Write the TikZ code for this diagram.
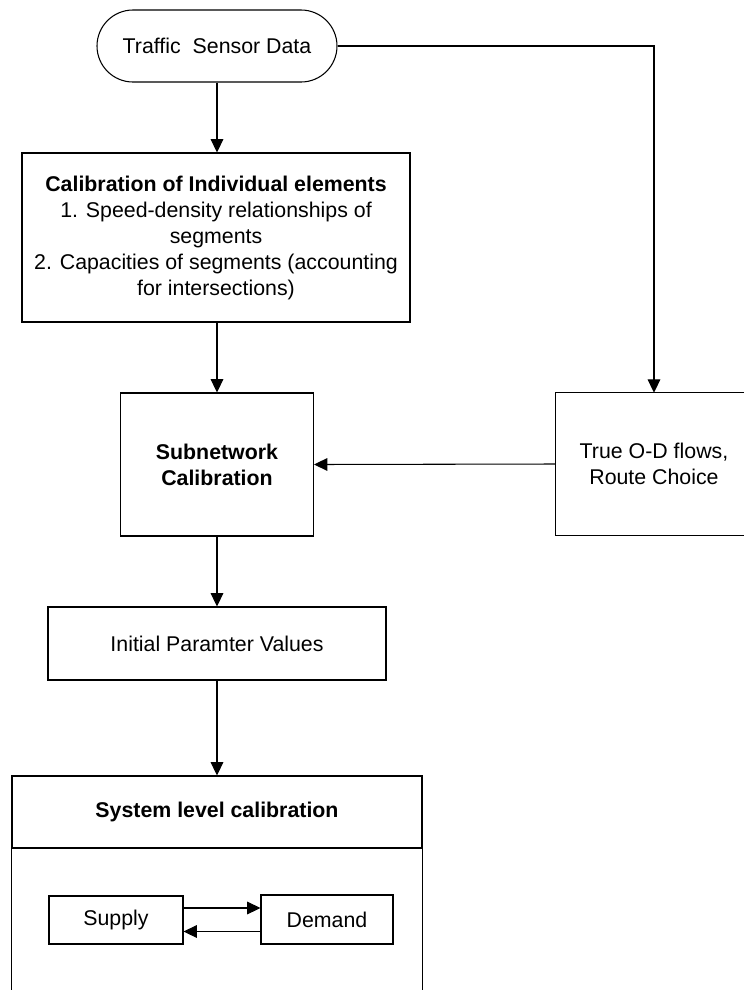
\documentclass[tikz,border=0pt]{standalone}
\usepackage{fontspec}
\setmainfont{Liberation Sans}
\usetikzlibrary{shapes.misc,arrows.meta,calc}
\begin{document}
\begin{tikzpicture}[x=0.75pt,y=-0.75pt,
  every node/.style={font=\fontsize{16}{19.5}\selectfont, inner sep=0pt, align=center},
  box/.style={draw, line width=0.8pt, rectangle},
  conn/.style={line width=0.8pt, -{Triangle[length=10pt,width=9.5pt]}},
  plain/.style={line width=0.8pt}]
\useasboundingbox (0,0) rectangle (744,990);
\coordinate (R) at (744,0);
\coordinate (B) at (0,990);

\node[draw, line width=0.8pt, rounded rectangle, minimum width=180pt, minimum height=54pt] (tsd) at (217,46) {Traffic~ Sensor Data};
\node[box, minimum width=291pt, minimum height=126.75pt] (box1) at (216,237.5)
  {\textbf{Calibration of Individual elements}\\1. Speed-density relationships of\\segments\\2. Capacities of segments (accounting\\for intersections)};
\node[box, minimum width=144.75pt, minimum height=107.25pt] (sub) at (217,464.5) {\textbf{Subnetwork}\\\textbf{Calibration}};
\node[minimum width=147pt, minimum height=106.5pt] (od) at (654,464) {True O-D flows,\\Route Choice};
\node[box, minimum width=253.5pt, minimum height=54.75pt] (init) at (217,643.5) {Initial Paramter Values};
\node[box, minimum width=307.5pt, minimum height=54pt] (sys) at (217,812) {\textbf{System level calibration}};
\node[box, minimum width=100.5pt, minimum height=36pt] (supply) at (116,920) {Supply};
\node[box, minimum width=99pt, minimum height=36.75pt] (demand) at (327,919.5) {Demand};

% open-edged outlines (cut by the page edge)
\draw[plain] (od.north west -| R) -- (od.north west) -- (od.south west) -- (od.south west -| R);
\draw[plain] (sys.south west) -- (sys.south west |- B);
\draw[plain] (sys.south east) -- (sys.south east |- B);

% connectors
\draw[conn] (tsd.south) -- (tsd.south |- box1.north);
\draw[conn] (box1.south -| sub.north) -- (sub.north);
\draw[conn] (sub.south) -- (init.north);
\draw[conn] (init.south) -- (sys.north);
\draw[conn] (tsd.east) -| (od.north);
\draw[conn] (od.west) -- (sub.east);
\draw[conn] ([yshift=9pt]supply.east) -- ([yshift=9pt]supply.east -| demand.west);
\draw[conn] ([yshift=-9pt]demand.west) -- ([yshift=-9pt]demand.west -| supply.east);
\end{tikzpicture}
\end{document}
